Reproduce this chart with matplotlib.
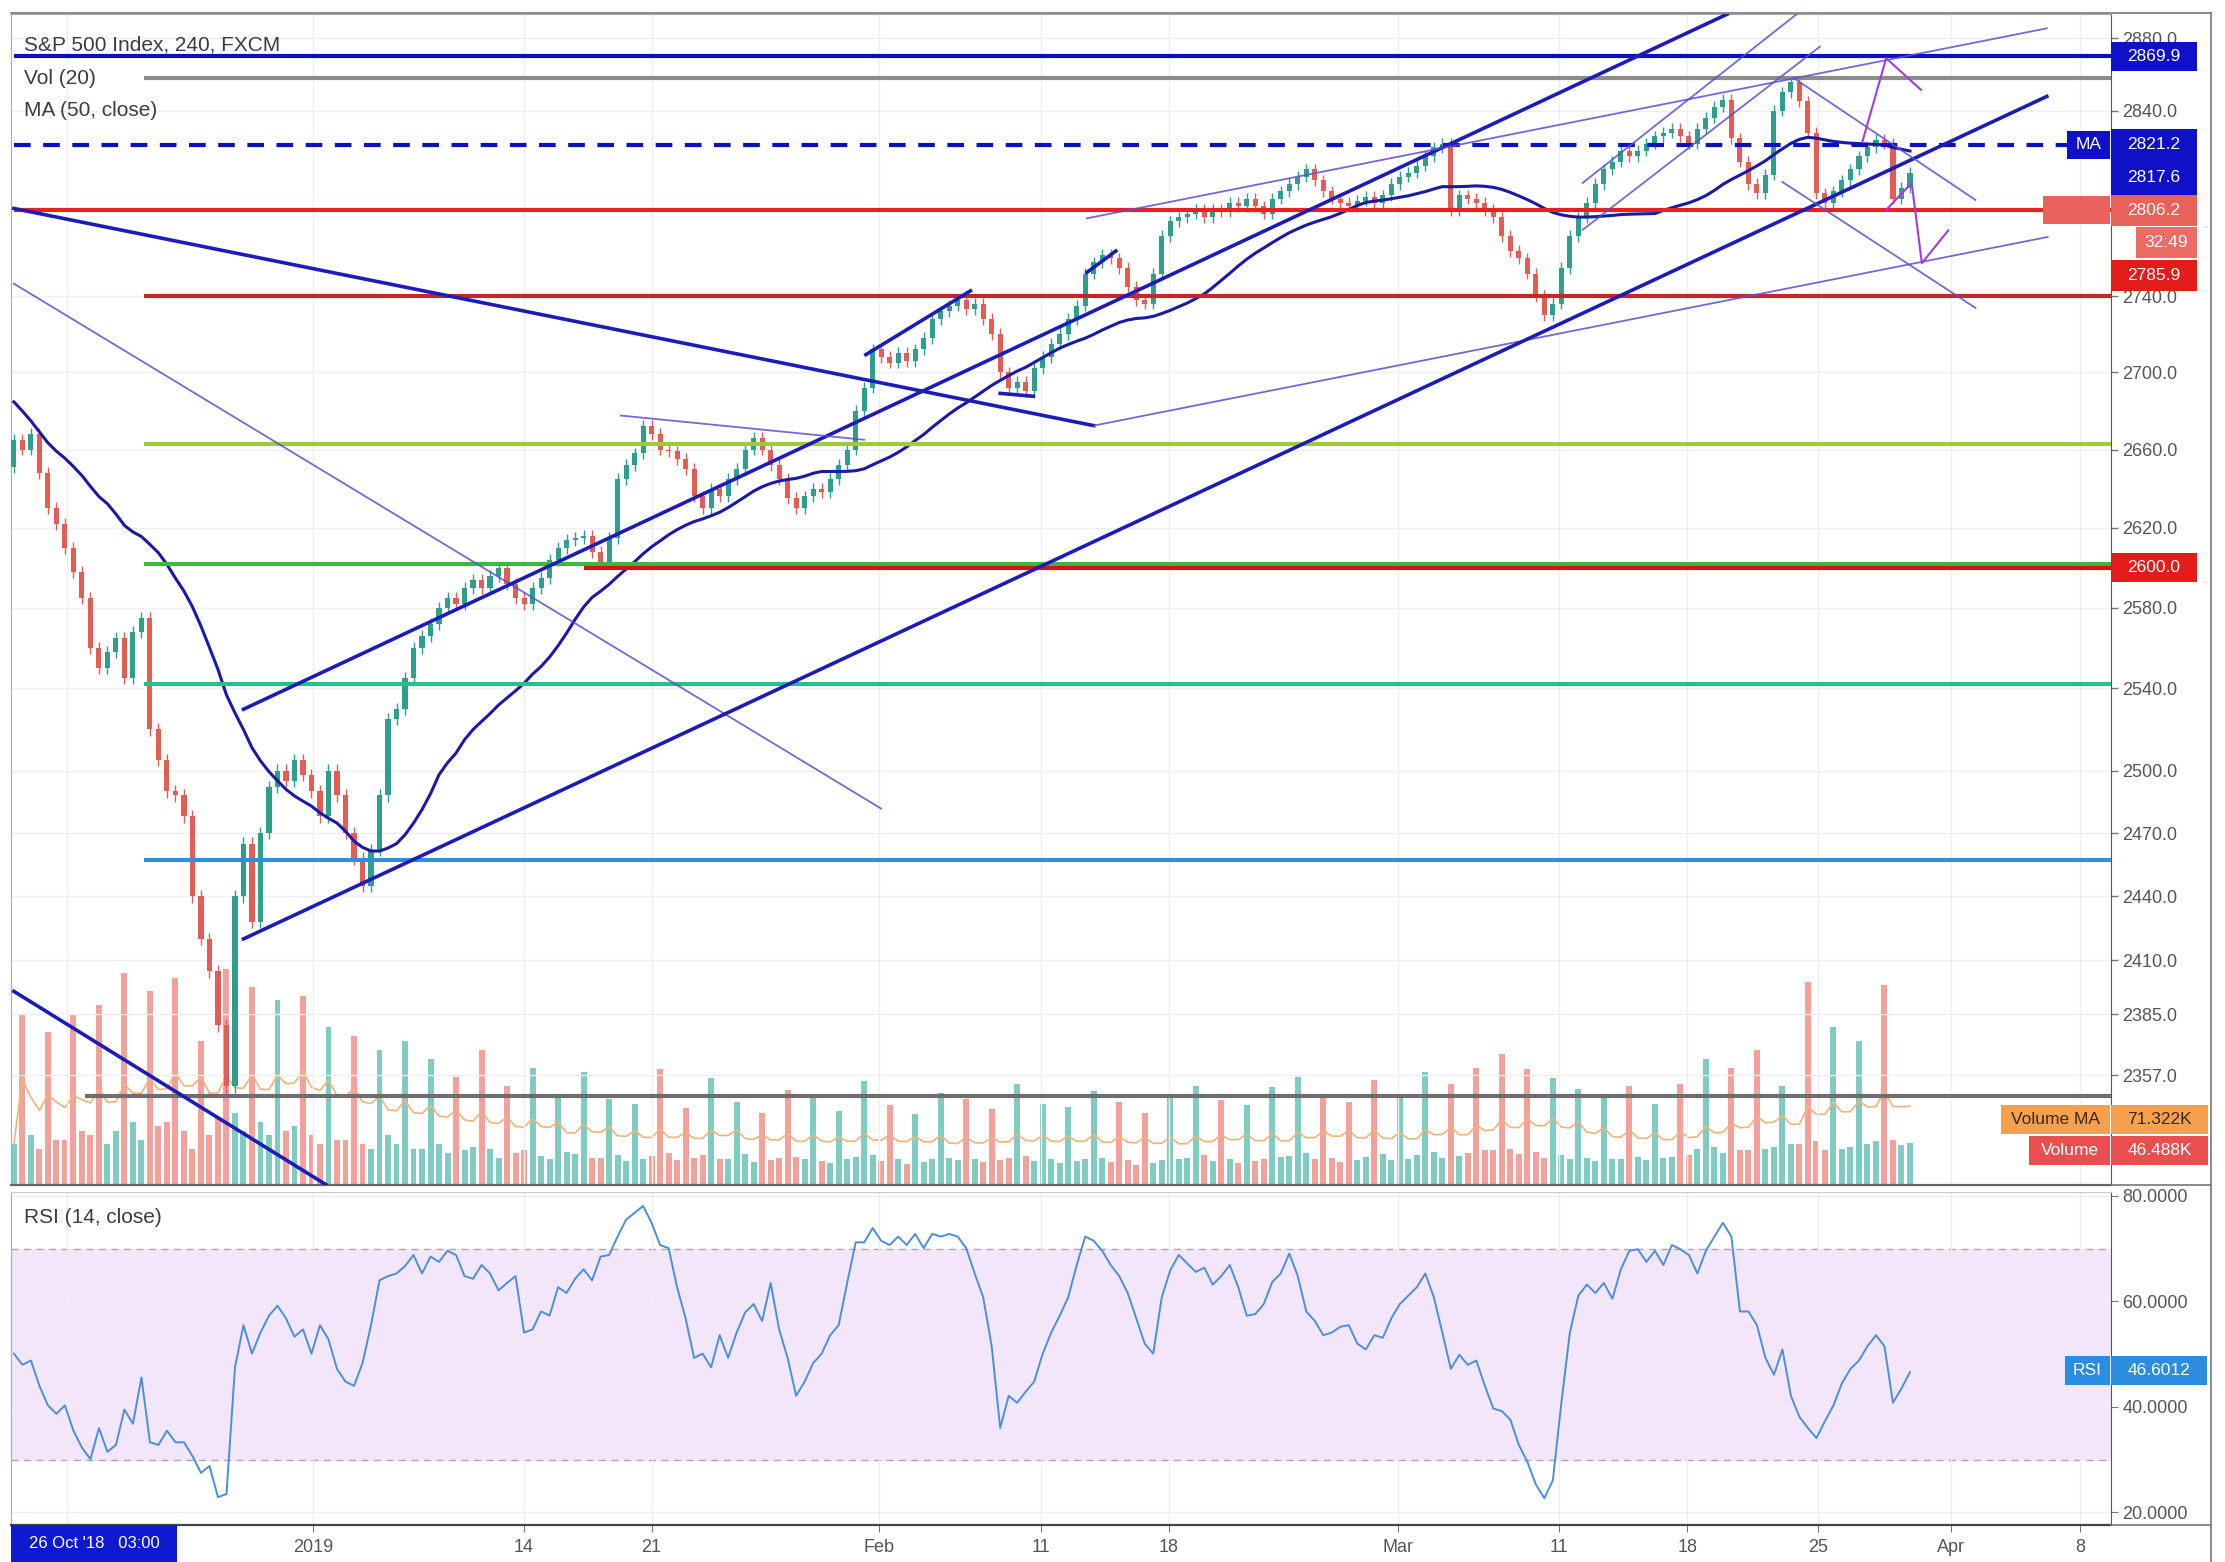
import numpy as np
import pandas as pd
import matplotlib
matplotlib.use("Agg")
import matplotlib.pyplot as plt
from matplotlib.patches import Rectangle
from matplotlib.lines import Line2D
from matplotlib.ticker import FixedLocator, NullLocator, FuncFormatter

plt.rcParams['font.family'] = ['Liberation Sans', 'DejaVu Sans']

# S&P 500 (FXCM), sampled as ~8h bars, bar 0 = 13 Dec 2018
# closes of 3-12 Dec, only used to warm up the MA
pre_closes = [2780, 2795, 2790, 2770, 2730, 2700, 2705, 2700, 2698, 2680, 2650, 2695,
              2690, 2650, 2633, 2620, 2610, 2637, 2660, 2640, 2636, 2660, 2670, 2651]

closes = [
    2665, 2660, 2668, 2648, 2630, 2622, 2610, 2598, 2585, 2560,
    2550, 2558, 2565, 2545, 2568, 2575, 2520, 2505, 2490, 2488,
    2478, 2440, 2420, 2405, 2380, 2352, 2440, 2465, 2428, 2470,
    2492, 2500, 2495, 2505, 2498, 2490, 2478, 2500, 2488, 2470,
    2458, 2445, 2462, 2488, 2525, 2530, 2545, 2560, 2566, 2572,
    2580, 2585, 2582, 2590, 2594, 2590, 2596, 2600, 2592, 2585,
    2582, 2590, 2595, 2604, 2610, 2614, 2615, 2616, 2608, 2603,
    2615, 2645, 2652, 2658, 2672, 2668, 2660, 2659, 2655, 2650,
    2636, 2630, 2640, 2636, 2645, 2650, 2660, 2666, 2660, 2652,
    2645, 2635, 2630, 2636, 2640, 2638, 2645, 2652, 2660, 2680,
    2692, 2712, 2708, 2705, 2710, 2706, 2712, 2718, 2728, 2732,
    2735, 2738, 2733, 2736, 2728, 2720, 2700, 2692, 2695, 2690,
    2702, 2708, 2715, 2720, 2728, 2735, 2752, 2758, 2762, 2760,
    2755, 2745, 2738, 2736, 2752, 2772, 2780, 2782, 2784, 2786,
    2782, 2786, 2785, 2790, 2788, 2792, 2788, 2784, 2792, 2796,
    2800, 2804, 2808, 2802, 2796, 2792, 2790, 2788, 2791, 2793,
    2790, 2794, 2800, 2804, 2806, 2810, 2815, 2820, 2822, 2786,
    2794, 2792, 2790, 2786, 2782, 2772, 2764, 2760, 2752, 2740,
    2730, 2736, 2755, 2772, 2782, 2790, 2800, 2808, 2812, 2818,
    2815, 2818, 2822, 2826, 2828, 2830, 2826, 2822, 2830, 2836,
    2842, 2846, 2825, 2812, 2800, 2795, 2805, 2840, 2850, 2856,
    2845, 2828, 2795, 2790, 2796, 2802, 2808, 2815, 2820, 2824,
    2822, 2792, 2798, 2806,
]

# volume in thousands
volume = [
    45, 190, 55, 40, 170, 50, 50, 190, 60, 55, 200, 45, 60, 235, 70, 50, 215, 65,
    70, 230, 60, 40, 160, 55, 75, 240, 80, 60, 220, 70, 55, 205, 60, 65, 210, 55,
    45, 175, 50, 50, 165, 45, 40, 150, 55, 45, 160, 40,
    40, 140, 45, 35, 120, 38, 42, 150, 40, 30, 110, 35, 38, 130, 32, 28, 100, 36,
    34, 125, 30, 30, 95, 33, 26, 90, 28, 32, 128, 35, 27, 85, 30, 33, 118, 29,
    29, 92, 34, 25, 80, 27, 30, 105, 31, 28, 98, 26, 24, 82, 29, 31, 115, 33,
    26, 88, 28, 23, 78, 25, 29, 102, 30, 27, 95, 28, 25, 84, 27, 30, 112, 32,
    26, 90, 29, 24, 86, 26, 28, 104, 30, 25, 92, 27, 22, 80, 24, 27, 98, 29,
    30, 110, 33, 26, 94, 28, 24, 88, 26, 29, 108, 31, 32, 120, 35, 28, 100, 30,
    25, 92, 27, 31, 116, 34, 27, 96, 29, 33, 125, 36, 30, 112, 32, 35, 130, 38,
    38, 145, 40, 34, 128, 36, 30, 118, 33, 28, 106, 30, 26, 98, 28, 29, 110, 31,
    27, 90, 30, 31, 112, 33,
    40, 140, 42, 35, 130, 38, 38, 150, 40, 42, 110, 45, 45, 225, 48, 38, 175, 40,
    42, 160, 45, 48, 222, 50, 44, 46,
]

rsi = [
    50.1, 48.0, 48.8, 44.0, 40.3, 38.7, 40.3, 35.5, 32.3, 30.1,
    36.0, 31.5, 32.8, 39.5, 36.8, 45.6, 33.3, 32.8, 35.5, 33.3,
    33.3, 30.7, 27.5, 28.8, 22.9, 23.5, 47.5, 55.5, 50.1, 54.1,
    57.3, 59.2, 56.8, 53.3, 54.7, 50.1, 55.5, 52.8, 47.2, 44.8,
    44.0, 48.3, 55.5, 64.0, 64.8, 65.3, 66.7, 68.8, 65.3, 68.5,
    67.5, 69.6, 68.8, 64.8, 64.3, 66.9, 65.3, 62.1, 63.5, 64.8,
    54.1, 54.7, 58.1, 57.3, 62.7, 61.6, 64.3, 66.1, 64.0, 68.5,
    68.8, 72.3, 75.5, 76.8, 78.1, 74.9, 70.7, 70.1, 62.7, 56.8,
    49.3, 50.1, 47.5, 53.6, 49.3, 54.1, 57.9, 59.5, 56.3, 63.5,
    54.7, 49.3, 42.1, 44.8, 48.3, 50.1, 53.6, 55.5, 63.5, 71.2,
    71.2, 73.9, 71.5, 70.7, 72.3, 70.7, 72.8, 70.1, 72.8, 72.3,
    72.8, 72.3, 70.1, 65.3, 60.8, 51.5, 36.0, 42.1, 40.8, 42.9,
    44.8, 50.1, 54.1, 57.3, 60.8, 66.9, 72.3, 71.5, 69.6, 66.9,
    64.8, 61.6, 56.8, 52.0, 50.1, 60.8, 65.9, 68.8, 67.2, 65.6,
    66.4, 63.2, 64.8, 66.9, 62.7, 57.3, 57.6, 59.5, 63.7, 65.3,
    69.1, 64.8, 58.1, 56.3, 53.6, 54.1, 55.2, 55.5, 52.0, 50.9,
    53.6, 53.1, 56.8, 59.5, 61.1, 62.7, 65.3, 60.8, 54.1, 47.2,
    49.9, 48.0, 48.8, 44.0, 39.7, 39.2, 37.6, 32.8, 29.6, 25.3,
    22.7, 26.1, 40.8, 54.1, 61.1, 63.2, 61.6, 63.5, 60.5, 66.1,
    69.6, 69.9, 67.5, 69.6, 66.9, 70.7, 69.9, 68.8, 65.3, 69.6,
    72.3, 74.9, 72.3, 58.1, 58.1, 55.5, 49.3, 46.1, 50.9, 42.1,
    38.1, 36.0, 34.1, 37.3, 40.3, 44.5, 47.2, 48.8, 51.5, 53.6,
    51.5, 40.8, 43.5, 46.6,
]

# x axis (bar positions) and its labels
date_ticks = [35.2, 60, 75, 101.7, 120.8, 135.8, 162.8, 181.7, 196.8, 212.2, 227.8, 243]
date_labels = ['2019', '14', '21', 'Feb', '11', '18', 'Mar', '11', '18', '25', 'Apr', '8']
grid_extra = [6.2]

price_ticks = [2357, 2385, 2410, 2440, 2470, 2500, 2540, 2580, 2620, 2660, 2700, 2740, 2840, 2880]
rsi_ticks = [20, 40, 60, 80]

# horizontal levels and the bars where each one starts / ends
level_price = [2869.9, 2858, 2821.2, 2785.9, 2740, 2663, 2602, 2600, 2542, 2457, 2347.5]
level_from = [0, 15.3, 0, 0, 15.3, 15.3, 15.3, 67.0, 15.3, 15.3, 8.4]
level_to = [246.7, 246.7, 241.5, 246.7, 246.7, 246.7, 246.7, 246.7, 246.7, 246.7, 246.7]
level_color = ['#0b10c0', '#8c8c8c', '#0b10c0', '#e8201e', '#c62828', '#9ccc3c',
               '#3db83d', '#dd1111', '#26c08c', '#2f8fd8', '#6e6e6e']

# trend lines drawn by hand: start bar/price, end bar/price
tl_b0 = [0, 127.0, 0, 0, 27.0, 27.0, 126.2, 100.2, 116.0, 126.2, 71.4, 184.5, 184.5, 209.3, 208.0]
tl_p0 = [2786.8, 2672.3, 2746.6, 2395.6, 2529.8, 2420.0, 2781.5, 2709.2, 2689.0, 2752.6,
         2677.5, 2800.6, 2775.3, 2858.0, 2801.1]
tl_b1 = [127.0, 239.2, 102.0, 36.7, 201.5, 239.1, 239.1, 112.5, 119.9, 129.6, 100.0, 209.8,
         212.4, 230.7, 230.7]
tl_p1 = [2672.3, 2771.5, 2481.7, 2307.8, 2893.4, 2847.8, 2885.5, 2742.8, 2687.5, 2764.0,
         2665.0, 2893.9, 2875.3, 2791.4, 2733.8]
tl_thick = [1, 0, 0, 1, 1, 1, 0, 1, 1, 1, 0, 0, 0, 0, 0]

# purple forecast arrows
arrow1_b = [217.4, 220.2, 224.3]
arrow1_p = [2822.9, 2868.9, 2851.4]
arrow2_b = [220.2, 223.2, 224.4, 227.5]
arrow2_p = [2786.0, 2800.6, 2757.5, 2775.0]

W, H = 1568, 1101          # layout grid of the reference
XMAX = 246.7


def fx(x):
    return x / W


def fy(y):
    return 1 - y / H


fig = plt.figure(figsize=(22.25, 15.62), dpi=100)
fig.patch.set_facecolor('white')

ax = fig.add_axes([fx(8), fy(835), 1480 / W, 825 / H])
axv = ax.twinx()
ax_rsi = fig.add_axes([fx(8), fy(1075), 1480 / W, 235 / H])

n = len(closes)
x = np.arange(n)
full = pd.Series(pre_closes + closes, dtype=float)
opens = np.array([pre_closes[-1]] + closes[:-1], dtype=float)
c = np.array(closes, dtype=float)
up = c >= opens

# candles
wick = 3.0
lo = np.minimum(opens, c)
hi = np.maximum(opens, c)
col = np.where(up, '#2e9e8f', '#e35d55')
ax.vlines(x, lo - wick, hi + wick, color=col, lw=1.0, zorder=3)
ax.bar(x, np.maximum(hi - lo, 0.8), bottom=lo, width=0.6, color=col, zorder=3)

# MA 50 of the 4h chart ~ 25 of these bars
ma = full.rolling(25).mean().iloc[len(pre_closes):].to_numpy()
ax.plot(x, ma, color='#1a1aa6', lw=2.2, zorder=4)

# levels
for p, a, b, cl in zip(level_price, level_from, level_to, level_color):
    ls = (0, (4, 3)) if p == 2821.2 else '-'
    ax.plot([a, b], [p, p], color=cl, lw=3.0, ls=ls, zorder=5, solid_capstyle='butt')

# trend lines
for b0, p0, b1, p1, t in zip(tl_b0, tl_p0, tl_b1, tl_p1, tl_thick):
    if t:
        ax.plot([b0, b1], [p0, p1], color='#1c1cb8', lw=2.6, zorder=6)
    else:
        ax.plot([b0, b1], [p0, p1], color='#5a4fd0', lw=1.3, alpha=0.85, zorder=6)
ax.plot(arrow1_b, arrow1_p, color='#a03ce0', lw=1.5, zorder=6)
ax.plot(arrow2_b, arrow2_p, color='#a03ce0', lw=1.5, zorder=6)

ax.set_yscale('log')
ax.set_xlim(-0.3, XMAX)
ax.set_ylim(2307.8, 2893.4)
ax.yaxis.tick_right()
ax.yaxis.set_major_locator(FixedLocator(price_ticks))
ax.yaxis.set_minor_locator(NullLocator())
ax.yaxis.set_major_formatter(FuncFormatter(lambda v, p: f'{v:.1f}'))
ax.yaxis.set_minor_formatter(FuncFormatter(lambda v, p: ''))
ax.tick_params(axis='y', which='major', direction='out', length=5, width=1, color='#777',
               pad=3, labelsize=13, labelcolor='#555')
ax.set_xticks(date_ticks + grid_extra)
ax.tick_params(axis='x', length=0, labelbottom=False)
ax.grid(True, color='#efefef', lw=1.0, zorder=0)
ax.patch.set_visible(False)
for s in ['top', 'left']:
    ax.spines[s].set_color('#aaaaaa')
ax.spines['right'].set_color('#555555')
ax.spines['bottom'].set_color('#666666')
ax.spines['bottom'].set_linewidth(1.6)

# volume overlay
vcol = np.where(up, '#80cbc2', '#f3a19b')
axv.bar(x, volume, width=0.7, color=vcol, zorder=1)
vma = pd.Series(volume, dtype=float).rolling(10, min_periods=1).mean()
axv.plot(x, vma, color='#f5b27a', lw=1.2, zorder=2)
axv.set_ylim(0, 1300)
axv.set_axis_off()
axv.set_zorder(ax.get_zorder() - 1)

# RSI pane
ax_rsi.axhspan(30, 70, color='#f3e6fb', zorder=0)
for lv in [30, 70]:
    ax_rsi.axhline(lv, color='#a9a9a9', lw=1.0, ls=(0, (5, 4)), zorder=1)
ax_rsi.plot(x, rsi, color='#4a8fdb', lw=1.4, zorder=3)
ax_rsi.set_xlim(-0.3, XMAX)
ax_rsi.set_ylim(17.6, 80.8)
ax_rsi.yaxis.tick_right()
ax_rsi.set_yticks(rsi_ticks)
ax_rsi.yaxis.set_major_formatter(FuncFormatter(lambda v, p: f'{v:.4f}'))
ax_rsi.tick_params(axis='y', direction='out', length=5, color='#777', pad=3,
                   labelsize=13, labelcolor='#555')
ax_rsi.set_xticks(date_ticks)
ax_rsi.set_xticklabels(date_labels)
ax_rsi.set_xticks(grid_extra, minor=True)
ax_rsi.tick_params(axis='x', which='major', direction='out', length=5, color='#777', pad=5,
                   labelsize=13, labelcolor='#555')
ax_rsi.tick_params(axis='x', which='minor', length=0)
ax_rsi.grid(True, which='both', color='#efefef', lw=1.0, zorder=0)
ax_rsi.spines['top'].set_color('#cccccc')
ax_rsi.spines['left'].set_color('#aaaaaa')
ax_rsi.spines['right'].set_color('#555555')
ax_rsi.spines['bottom'].set_color('#444444')
ax_rsi.spines['bottom'].set_linewidth(1.6)

# frame around the price scale column
for xs, ys in [([8, 1558], [9, 9]), ([1558, 1558], [9, 1101]), ([1488, 1558], [835, 835]),
               ([1488, 1558], [1075, 1075])]:
    fig.add_artist(Line2D([fx(v) for v in xs], [fy(v) for v in ys], color='#777777', lw=1.2))


def price_y(v):
    return (1 - fig.transFigure.inverted().transform(ax.transData.transform((0, v)))[1]) * H


def tag(x0, x1, yc, text, fc, tc='white', h=20, fs=12.5):
    fig.add_artist(Rectangle((fx(x0), fy(yc + h / 2)), (x1 - x0) / W, h / H,
                             transform=fig.transFigure, facecolor=fc, edgecolor='none', zorder=20))
    if text:
        fig.text(fx((x0 + x1) / 2), fy(yc), text, color=tc, fontsize=fs,
                 ha='center', va='center', zorder=21)


y_top = price_y(2869.9)
y_ma = price_y(2821.2)
tag(1488, 1548, y_top, '2869.9', '#1010c8')
tag(1457, 1487, y_ma, 'MA', '#1010c8')
tag(1488, 1548, y_ma, '2821.2', '#1010c8', h=22)
tag(1488, 1548, y_ma + 23, '2817.6', '#1010c8', h=24)
tag(1440, 1487, y_ma + 46, '', '#e8625c')
tag(1488, 1548, y_ma + 46, '2806.2', '#e8625c', h=22)
tag(1505, 1548, y_ma + 69, '32:49', '#ec6c64', h=22)
tag(1488, 1548, y_ma + 92, '2785.9', '#e31b1b', h=22)
tag(1488, 1548, price_y(2600), '2600.0', '#e31b1b')
tag(1410, 1487, 789, 'Volume MA', '#f5a04e', '#3a2a10')
tag(1488, 1556, 789, '71.322K', '#f5a04e', '#3a2a10')
tag(1430, 1487, 811, 'Volume', '#e94f4f')
tag(1488, 1556, 811, '46.488K', '#e94f4f')
tag(1455, 1487, 966, 'RSI', '#2b8de0')
tag(1488, 1555, 966, '46.6012', '#2b8de0')
tag(8, 125, 1088, "26 Oct '18   03:00", '#0d1ad0', h=26, fs=12)

# pane legends
for yv, txt in [(32, 'S&P 500 Index, 240, FXCM'), (55, 'Vol (20)'), (78, 'MA (50, close)'),
                (858, 'RSI (14, close)')]:
    fig.text(fx(17), fy(yv), txt, fontsize=15, color='#3b3b48', va='center', zorder=22)

fig.savefig('out.png', dpi=100)
